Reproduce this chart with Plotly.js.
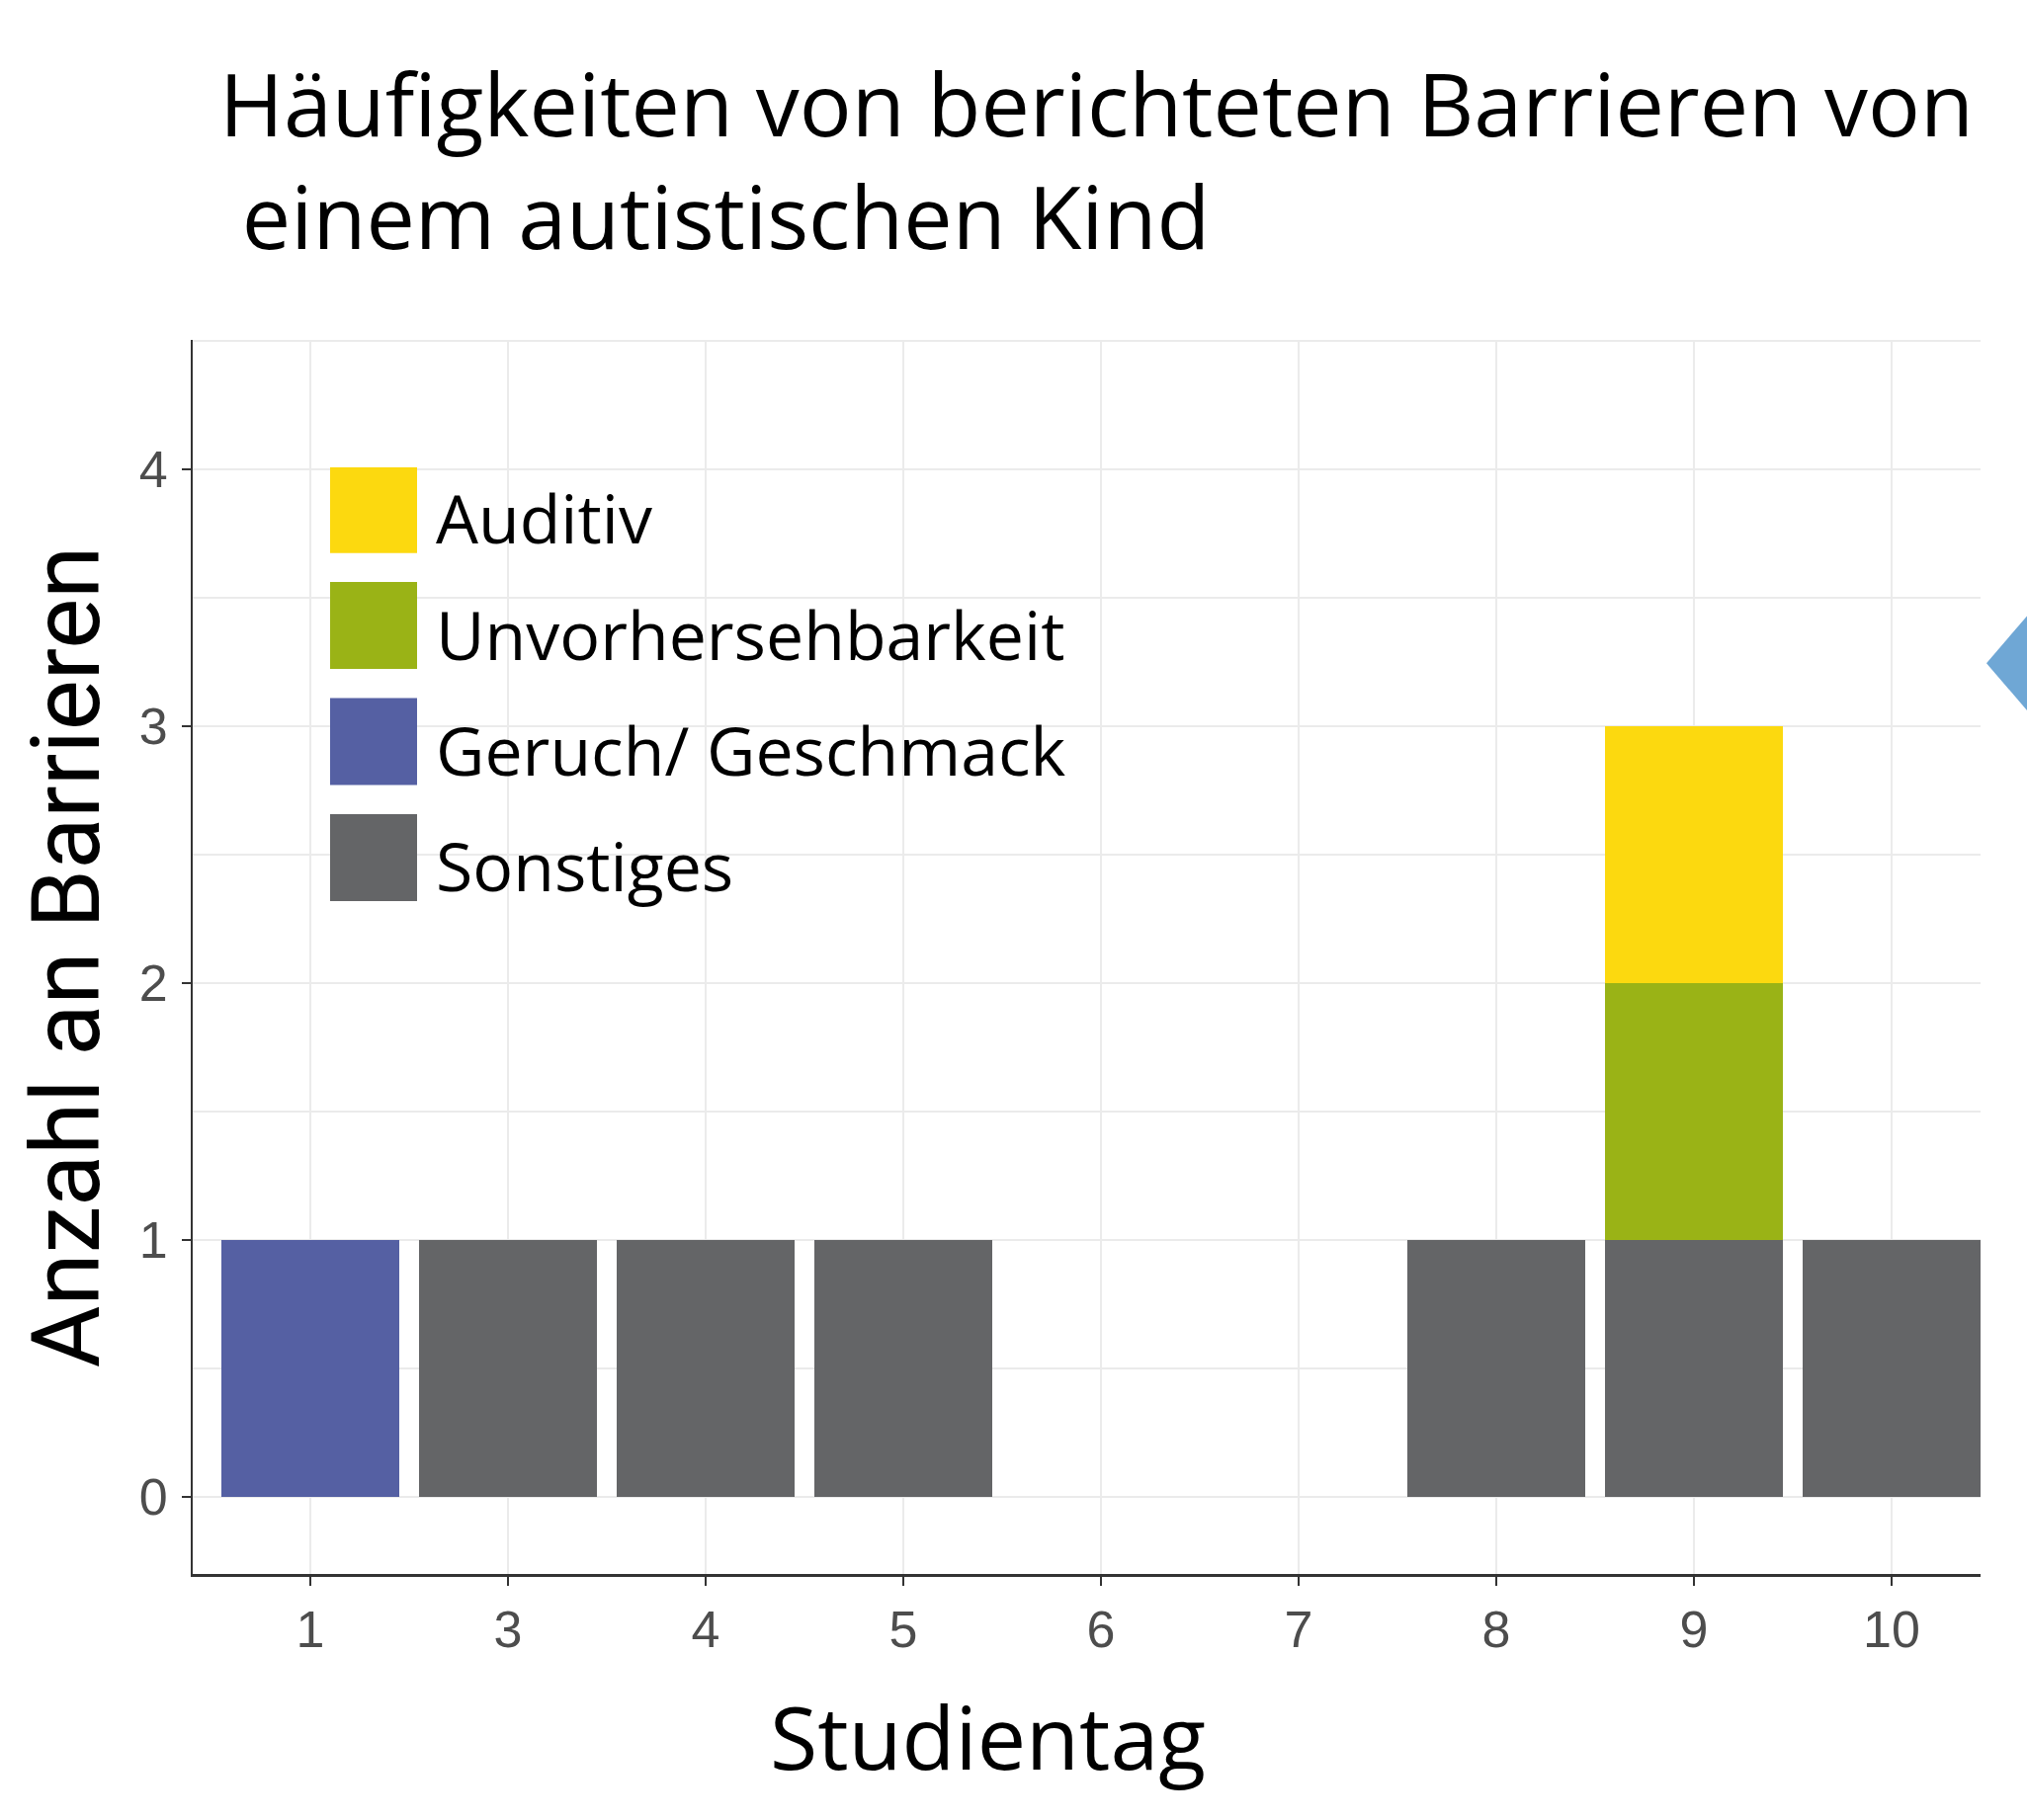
<!DOCTYPE html>
<html><head><meta charset="utf-8">
<script src="https://cdn.plot.ly/plotly-3.0.1.min.js"></script>
<style>html,body{margin:0;padding:0;background:#fff}</style>
</head><body>
<div id="chart" style="width:2051px;height:1842px"></div>
<script>
const days = ['1','3','4','5','6','7','8','9','10'];
const sonstiges = [0,1,1,1,0,0,1,1,1];
const geruch = [1,0,0,0,0,0,0,0,0];
const unvorhersehbarkeit = [0,0,0,0,0,0,0,1,0];
const auditiv = [0,0,0,0,0,0,0,1,0];
const yTickVals = [0,1,2,3,4];
const seriesNames = ['Sonstiges','Geruch/ Geschmack','Unvorhersehbarkeit','Auditiv'];
const seriesValues = [sonstiges, geruch, unvorhersehbarkeit, auditiv];
const seriesColors = ['#646567','#5560A3','#9AB316','#FCD90F'];
const legendRanks = [4,3,2,1];

const data = seriesNames.map((n,i)=>({
  type:'bar', name:n, x:days, y:seriesValues[i], legendgroup:'g'+i, legendrank:legendRanks[i],
  marker:{color:seriesColors[i], line:{width:0}}, hoverinfo:'x+y+name'
}));

const LEGEND_FONT = 68;
const layout = {
  width:2051, height:1842,
  paper_bgcolor:'#fff', plot_bgcolor:'#fff',
  margin:{l:195, r:47, t:344, b:249, autoexpand:false},
  barmode:'stack', bargap:0.1,
  font:{family:'Open Sans, sans-serif', color:'#000'},
  title:{text:'Häufigkeiten von berichteten Barrieren von<br>&nbsp;einem autistischen Kind',
    font:{family:'Open Sans, sans-serif', size:88, color:'#000'},
    xref:'container', yref:'container', x:222/2051, xanchor:'left', y:1-138/1842, yanchor:'top', pad:{t:0,b:0,l:0,r:0}},
  xaxis:{type:'category', categoryorder:'array', categoryarray:days, range:[-0.595,8.45],
    showline:true, linecolor:'#333', linewidth:3, ticks:'outside', ticklen:9, tickwidth:2, tickcolor:'#333',
    showgrid:true, gridcolor:'#EBEBEB', gridwidth:2, zeroline:false,
    tickfont:{family:'Liberation Sans, Arial, sans-serif', size:52, color:'#4D4D4D'}, ticklabelstandoff:0},
  yaxis:{range:[-0.3,4.505], tickvals:yTickVals, ticktext:yTickVals.map(String),
    showline:true, linecolor:'#333', linewidth:2, ticks:'outside', ticklen:9, tickwidth:2, tickcolor:'#333',
    showgrid:true, gridcolor:'#EBEBEB', gridwidth:2, zeroline:false,
    minor:{dtick:0.5, tick0:0, showgrid:true, gridcolor:'#EBEBEB', gridwidth:2, ticks:''},
    tickfont:{family:'Liberation Sans, Arial, sans-serif', size:52, color:'#4D4D4D'}, ticklabelstandoff:4,
    title:{text:'Anzahl an Barrieren', font:{family:'Roboto, sans-serif', size:96, color:'#000'}, standoff:8}},
  legend:{x:(324-195)/1809, xanchor:'left', y:(1593-473)/1249, yanchor:'top',
    bgcolor:'rgba(0,0,0,0)', borderwidth:0, itemwidth:107, traceorder:'grouped', tracegroupgap:26,
    font:{family:'Open Sans, sans-serif', size:LEGEND_FONT, color:'#000'}},
  annotations:[{text:'Studientag', xref:'paper', yref:'paper', x:(999-195)/1809, y:(1593-1757)/1249,
    xanchor:'center', yanchor:'middle', showarrow:false, font:{family:'Open Sans, sans-serif', size:88, color:'#000'}}],
  shapes:[{type:'path', xref:'paper', yref:'paper', path:'M 1.0033,0.738 L 1.03,0.783 L 1.03,0.693 Z',
    fillcolor:'#6FA7D5', line:{width:0}}]
};

const gd = document.getElementById('chart');
function fixLegend(){
  gd.querySelectorAll('.legend .traces').forEach(function(t){
    const txt = t.querySelector('text.legendtext');
    if(!txt) return;
    const tx = parseFloat(txt.getAttribute('x'));
    const ty = parseFloat(txt.getAttribute('y'));
    t.querySelectorAll('.legendpoints path').forEach(function(p){
      let el = p;
      while(el && el !== t){ el.removeAttribute('transform'); el = el.parentNode; }
      p.setAttribute('d','M'+(tx-107)+','+(ty-0.39*LEGEND_FONT-52)+'h88v88h-88Z');
    });
  });
}
Plotly.newPlot(gd, data, layout, {displayModeBar:false, responsive:false}).then(fixLegend);
</script>
</body></html>
